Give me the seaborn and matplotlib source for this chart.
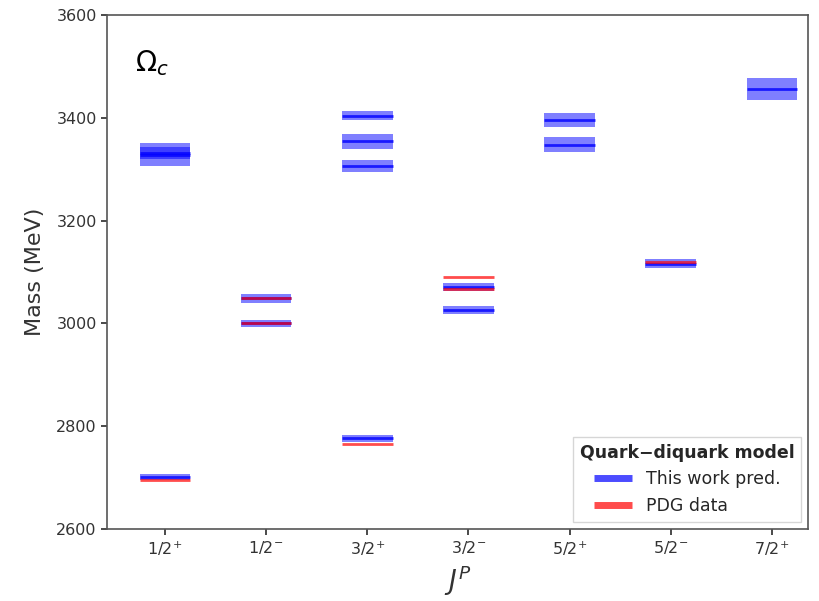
import matplotlib
matplotlib.use("Agg")
import matplotlib.pyplot as plt
import seaborn as sns
import pandas as pd
from matplotlib.lines import Line2D

# J^P channels
jp_labels = ["1/2$^{+}$", "1/2$^{-}$", "3/2$^{+}$", "3/2$^{-}$",
             "5/2$^{+}$", "5/2$^{-}$", "7/2$^{+}$"]

# Quark-diquark model predictions (channel index, mass, uncertainty) in MeV
pred_channel = [0, 0, 0, 1, 1, 2, 2, 2, 2, 3, 3, 4, 4, 5, 6]
pred_mass = [2701, 3328, 3332, 3000, 3049, 2776, 3306, 3354, 3404, 3026, 3071, 3348, 3396, 3116, 3456]
pred_err = [6, 22, 12, 7, 9, 6, 12, 14, 9, 7, 8, 15, 13, 9, 22]

# PDG measured masses (channel index, mass) in MeV
pdg_channel = [0, 1, 1, 2, 3, 3, 5]
pdg_mass = [2695, 3000, 3050, 2766, 3066, 3090, 3119]

pred = pd.DataFrame({"channel": pred_channel, "mass": pred_mass, "err": pred_err})
pdg = pd.DataFrame({"channel": pdg_channel, "mass": pdg_mass})

sns.set_theme(style="ticks")
plt.rcParams["font.family"] = ["DejaVu Sans"]

fig = plt.figure(figsize=(8.19, 6.01), dpi=100)
ax = fig.add_axes([0.131, 0.12, 0.856, 0.855])

half = 0.25
# uncertainty bands
ax.bar(pred["channel"], 2 * pred["err"], bottom=pred["mass"] - pred["err"],
       width=2 * half, color="blue", alpha=0.5, linewidth=0)
# central predictions
ax.hlines(pred["mass"], pred["channel"] - half, pred["channel"] + half,
          color="blue", linewidth=2, alpha=0.8)
# experimental values
ax.hlines(pdg["mass"], pdg["channel"] - half, pdg["channel"] + half,
          color="red", linewidth=2, alpha=0.7)

ax.set_xlim(-0.57, 6.36)
ax.set_ylim(2600, 3600)
ax.set_xticks(range(len(jp_labels)))
ax.set_xticklabels(jp_labels)
ax.set_yticks([2600, 2800, 3000, 3200, 3400, 3600])
ax.tick_params(axis="both", labelsize=11.5, colors="#333333", direction="out", length=4)
for sp in ax.spines.values():
    sp.set_color("#555555")
    sp.set_linewidth(1.2)

ax.set_ylabel("Mass (MeV)", fontsize=16, color="#333333", labelpad=8)
ax.set_xlabel("$J^P$", fontsize=19, color="#333333")
ax.text(0.04, 0.935, r"$\Omega_c$", transform=ax.transAxes, fontsize=20,
        va="top", ha="left", color="black")

handles = [Line2D([0], [0], color="blue", lw=5, alpha=0.7, solid_capstyle="butt"),
           Line2D([0], [0], color="red", lw=5, alpha=0.7, solid_capstyle="butt")]
leg = ax.legend(handles, ["This work pred.", "PDG data"], loc="lower right",
                title="Quark\u2212diquark model", fontsize=12.5, title_fontsize=12.5,
                frameon=True, handlelength=2.2, borderaxespad=0.4, fancybox=False)
leg.get_title().set_fontweight("bold")
leg.get_frame().set_edgecolor("#cccccc")

fig.savefig("out.png", dpi=100)
